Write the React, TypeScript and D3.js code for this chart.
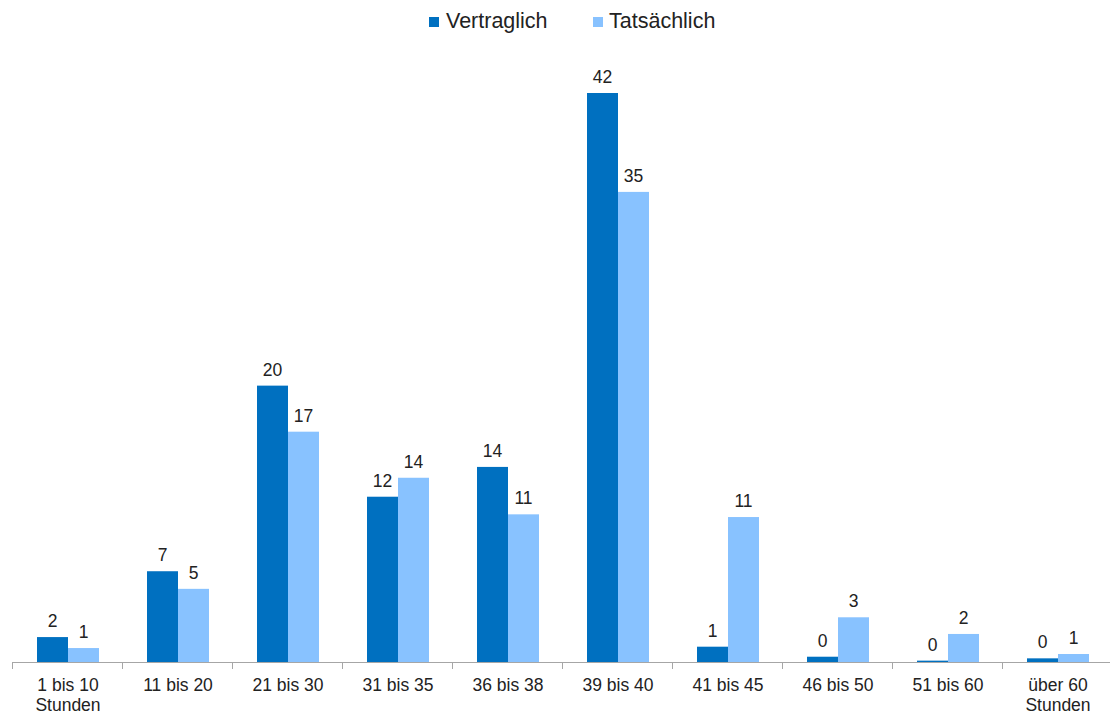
import React from "react";
import * as d3 from "d3";

const categories: string[][] = [
  ["1 bis 10", "Stunden"],
  ["11 bis 20"],
  ["21 bis 30"],
  ["31 bis 35"],
  ["36 bis 38"],
  ["39 bis 40"],
  ["41 bis 45"],
  ["46 bis 50"],
  ["51 bis 60"],
  ["über 60", "Stunden"],
];
const seriesNames = ["Vertraglich", "Tatsächlich"];
const vertraglich = [1.84, 6.7, 20.4, 12.2, 14.4, 42.0, 1.13, 0.39, 0.1, 0.27];
const tatsaechlich = [1.03, 5.4, 17.0, 13.6, 10.9, 34.7, 10.7, 3.3, 2.07, 0.59];
const colors = ["#0070C0", "#88C2FF"];

const W = 1110;
const H = 715;
const left = 13;
const right = 1113;
const baseline = 662;

export default function App() {
  const keys = categories.map((c) => c.join(" "));
  const x = d3.scaleBand<string>().domain(keys).range([left, right]).paddingInner(0).paddingOuter(0);
  const inner = d3.scaleBand<number>().domain([0, 1]).range([0, 62]);
  const y = d3.scaleLinear().domain([0, 42]).range([baseline, 93]);
  const series = [vertraglich, tatsaechlich];
  const font = "'Liberation Sans', Arial, sans-serif";

  return (
    <svg
      width={W}
      height={H}
      style={{ position: "absolute", left: 0, top: 0, display: "block", background: "#fff" }}
      fontFamily={font}
    >
      {/* legend */}
      <g>
        <rect x={429} y={17} width={10} height={10} fill={colors[0]} />
        <text x={446} y={28} fontSize={21.5} fill="#222">{seriesNames[0]}</text>
        <rect x={593} y={17} width={10} height={10} fill={colors[1]} />
        <text x={609} y={28} fontSize={21.5} fill="#222">{seriesNames[1]}</text>
      </g>
      {/* bars */}
      {keys.map((k, i) => {
        const cx = (x(k) ?? 0) + x.bandwidth() / 2;
        const g0 = cx - 31;
        return (
          <g key={k}>
            {series.map((s, j) => {
              const bx = g0 + (inner(j) ?? 0);
              const by = y(s[i]);
              return (
                <g key={j}>
                  <rect x={bx} y={by} width={inner.bandwidth()} height={baseline - by} fill={colors[j]} />
                  <text
                    x={bx + inner.bandwidth() / 2}
                    y={by - 10}
                    fontSize={17.5}
                    textAnchor="middle"
                    fill="#222"
                  >
                    {Math.round(s[i])}
                  </text>
                </g>
              );
            })}
          </g>
        );
      })}
      {/* axis */}
      <line x1={left} x2={W} y1={baseline + 0.5} y2={baseline + 0.5} stroke="#a6a6a6" strokeWidth={1} />
      {keys.map((k) => (
        <line
          key={"t" + k}
          x1={Math.round(x(k) ?? 0) - 0.5}
          x2={Math.round(x(k) ?? 0) - 0.5}
          y1={baseline}
          y2={baseline + 7}
          stroke="#a6a6a6"
        />
      ))}
      {keys.map((k, i) => {
        const cx = (x(k) ?? 0) + x.bandwidth() / 2;
        return (
          <text key={"l" + k} x={cx} fontSize={17.5} textAnchor="middle" fill="#222">
            {categories[i].map((line, li) => (
              <tspan key={li} x={cx} y={691 + li * 20}>
                {line}
              </tspan>
            ))}
          </text>
        );
      })}
    </svg>
  );
}
